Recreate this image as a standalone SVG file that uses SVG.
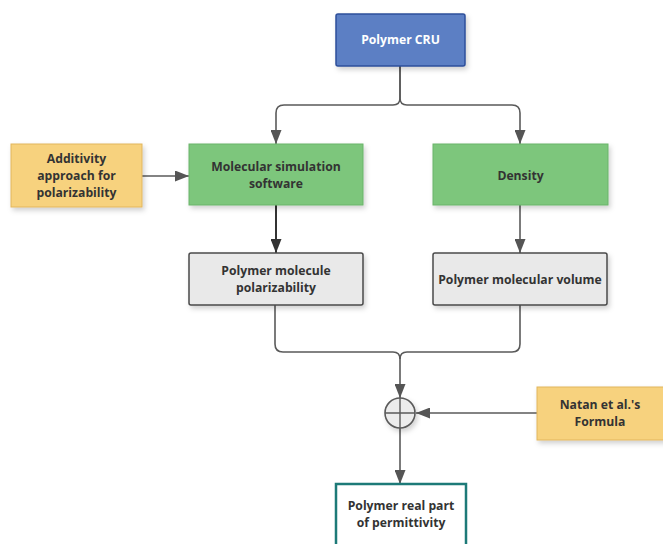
<svg xmlns="http://www.w3.org/2000/svg" width="663" height="544" viewBox="0 0 663 544">
<defs>
<filter id="sh" x="-10%" y="-10%" width="130%" height="140%">
<feDropShadow dx="2" dy="3" stdDeviation="2.5" flood-color="#000" flood-opacity="0.18"/>
</filter>
<marker id="ar" viewBox="0 0 14 11" refX="14" refY="5.5" markerWidth="14" markerHeight="11" markerUnits="userSpaceOnUse" orient="auto">
<path d="M0,0 L14,5.5 L0,11 z" fill="#555"/>
</marker>
<marker id="ar2" viewBox="0 0 14 11" refX="14" refY="5.5" markerWidth="14" markerHeight="11" markerUnits="userSpaceOnUse" orient="auto">
<path d="M0,0 L14,5.5 L0,11 z" fill="#333"/>
</marker>
</defs>
<style>
text{font-family:"Open Sans","Noto Sans","Liberation Sans",sans-serif;font-weight:bold;font-size:12.2px;fill:#333;text-anchor:middle}
.w{fill:#fff}
.c{fill:none;stroke:#5a5a5a;stroke-width:1.6}
.blue{fill:#5b7fc4;stroke:#2e4f9a;stroke-width:1.5}
.green{fill:#7dc67c;stroke:#6bb46a;stroke-width:1}
.yel{fill:#f7d27e;stroke:#e2b65c;stroke-width:1}
.gray{fill:#e9e9e9;stroke:#4a4a4a;stroke-width:1.5}
.teal{fill:#fff;stroke:#1d7a78;stroke-width:2.5}
</style>
<rect width="663" height="544" fill="#fff"/>
<g id="connectors">
<path class="c" d="M400,66 V98 Q400,105 393,105 H284 Q276,105 276,113 V144" marker-end="url(#ar)"/>
<path class="c" d="M400,66 V98 Q400,105 407,105 H512 Q520,105 520,113 V144" marker-end="url(#ar)"/>
<path class="c" d="M142,176 H189" marker-end="url(#ar)"/>
<path d="M276,205 V253" fill="none" stroke="#333" stroke-width="2" marker-end="url(#ar2)"/>
<path class="c" d="M520,205 V253" marker-end="url(#ar)"/>
<path class="c" d="M275,305 V344 Q275,352 283,352 H393 Q400,352 400,359 V398" marker-end="url(#ar)"/>
<path class="c" d="M520,305 V344 Q520,352 512,352 H407 Q400,352 400,359"/>
<path class="c" d="M537,413 H416" marker-end="url(#ar)"/>
<path class="c" d="M400,428 V484" marker-end="url(#ar)"/>
</g>
<g id="n_cru">
<rect class="blue" x="336" y="14" width="129" height="52" rx="2" filter="url(#sh)"/>
<text class="w" x="400.5" y="44">Polymer CRU</text>
</g>
<g id="n_add">
<rect class="yel" x="11" y="144" width="131" height="63" filter="url(#sh)"/>
<text x="76.5" y="163">Additivity</text>
<text x="76.5" y="180">approach for</text>
<text x="76.5" y="197">polarizability</text>
</g>
<g id="n_mss">
<rect class="green" x="189" y="144" width="174" height="61" filter="url(#sh)"/>
<text x="276" y="171">Molecular simulation</text>
<text x="276" y="188">software</text>
</g>
<g id="n_den">
<rect class="green" x="433" y="144" width="175" height="61" filter="url(#sh)"/>
<text x="520.5" y="180">Density</text>
</g>
<g id="n_pol">
<rect class="gray" x="189" y="253" width="174" height="52" rx="2" filter="url(#sh)"/>
<text x="276" y="275">Polymer molecule</text>
<text x="276" y="292">polarizability</text>
</g>
<g id="n_vol">
<rect class="gray" x="433" y="253" width="174" height="52" rx="2" filter="url(#sh)"/>
<text x="520" y="284">Polymer molecular volume</text>
</g>
<g id="n_sum">
<circle cx="400" cy="413" r="15" fill="#ececec" stroke="#5a5a5a" stroke-width="1.6" filter="url(#sh)"/>
<path d="M385,413 H415 M400,398 V428" stroke="#5a5a5a" stroke-width="1.4" fill="none"/>
</g>
<g id="n_natan">
<rect class="yel" x="537" y="387" width="130" height="53" filter="url(#sh)"/>
<text x="600" y="409">Natan et al.'s</text>
<text x="600" y="426">Formula</text>
</g>
<g id="n_perm">
<rect class="teal" x="336" y="484" width="130" height="66"/>
<text x="401" y="510">Polymer real part</text>
<text x="401" y="527">of permittivity</text>
</g>
</svg>
